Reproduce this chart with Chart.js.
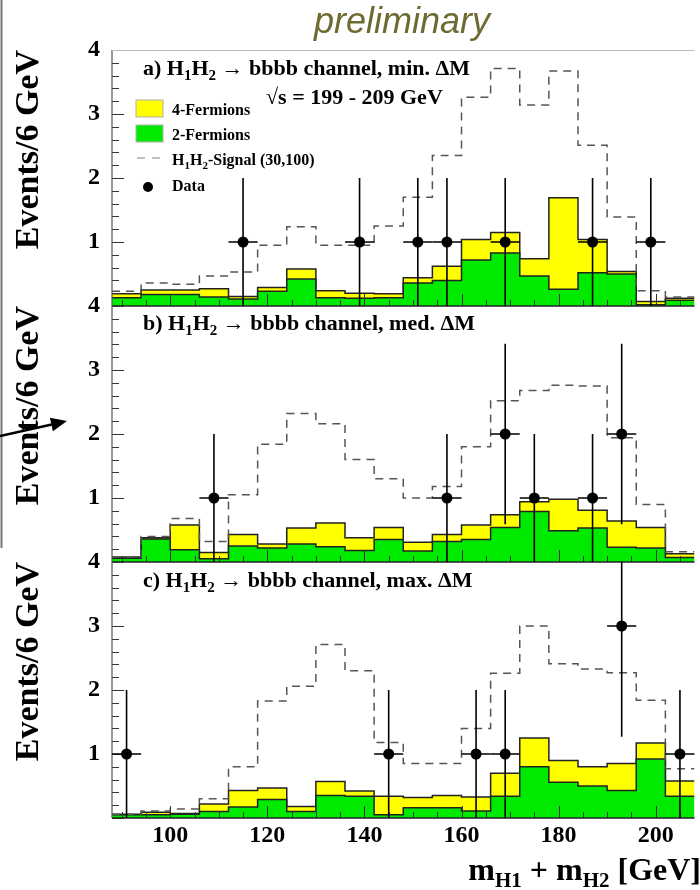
<!DOCTYPE html>
<html>
<head>
<meta charset="utf-8">
<script src="https://cdn.jsdelivr.net/npm/chart.js@4.4.0/dist/chart.umd.min.js"></script>
<style>
  html, body { margin: 0; padding: 0; background: #fff; }
  #wrap { position: relative; width: 700px; height: 890px; overflow: hidden; }
  #plot { position: absolute; left: 0; top: 0; }
  #notes { position: absolute; left: 0; top: 0; pointer-events: none; }
  #notes text { font-family: 'Liberation Serif', 'Times New Roman', serif; font-weight: bold; fill: #000; }
</style>
</head>
<body>
<div id="wrap">
  <canvas id="plot" width="700" height="890"></canvas>
  <svg id="notes" width="700" height="890">
    <line x1="1.5" y1="0" x2="1.5" y2="548" stroke="#777" stroke-width="2"/>
    <line x1="0" y1="436" x2="54" y2="424" stroke="#000" stroke-width="2.5"/>
    <polygon points="67,421 52.9,431.3 49.9,417.7" fill="#000"/>

    <text x="402" y="33" text-anchor="middle" style="font-family:'Liberation Sans',Arial,sans-serif;font-style:italic;font-weight:normal;font-size:36px;fill:#6d6b32">preliminary</text>

    <text x="143" y="75" font-size="22">a) H<tspan font-size="15" dy="5">1</tspan><tspan dy="-5">H</tspan><tspan font-size="15" dy="5">2</tspan><tspan dy="-5"> → bbbb channel, min. ΔM</tspan></text>
    <text x="266" y="104" font-size="22">√s = 199 - 209 GeV</text>

    <rect x="136" y="100" width="27" height="17" fill="#ffff00" stroke="#b0b0b0" stroke-width="1"/>
    <text x="172" y="115" font-size="16">4-Fermions</text>
    <rect x="136" y="125" width="27" height="17" fill="#00ea00" stroke="#b0b0b0" stroke-width="1"/>
    <text x="172" y="140" font-size="16">2-Fermions</text>
    <line x1="137" y1="158" x2="163" y2="158" stroke="#aaa" stroke-width="1.5" stroke-dasharray="8,7"/>
    <text x="172" y="165" font-size="16">H<tspan font-size="11" dy="4">1</tspan><tspan dy="-4">H</tspan><tspan font-size="11" dy="4">2</tspan><tspan dy="-4">-Signal (30,100)</tspan></text>
    <circle cx="148" cy="187" r="5" fill="#000"/>
    <text x="172" y="191" font-size="16">Data</text>

    <text x="143" y="330" font-size="22">b) H<tspan font-size="15" dy="5">1</tspan><tspan dy="-5">H</tspan><tspan font-size="15" dy="5">2</tspan><tspan dy="-5"> → bbbb channel, med. ΔM</tspan></text>
    <text x="143" y="587" font-size="22">c) H<tspan font-size="15" dy="5">1</tspan><tspan dy="-5">H</tspan><tspan font-size="15" dy="5">2</tspan><tspan dy="-5"> → bbbb channel, max. ΔM</tspan></text>

    <text x="701" y="880" text-anchor="end" font-size="32">m<tspan font-size="21" dy="7">H1</tspan><tspan dy="-7"> + m</tspan><tspan font-size="21" dy="7">H2</tspan><tspan dy="-7"> [GeV]</tspan></text>
  </svg>
</div>
<script>
// 6 GeV mass bins, edges in GeV
const massEdges = [88, 94, 100, 106, 112, 118, 124, 130, 136, 142, 148, 154, 160, 166, 172, 178, 184, 190, 196, 202, 208];
const massTicks = [100, 120, 140, 160, 180, 200];
const countTicks = [1, 2, 3, 4];
const halfBin = 3;

// a) min. dM
const twoFermA  = [0.13, 0.18, 0.18, 0.14, 0.11, 0.23, 0.42, 0.13, 0.12, 0.13, 0.36, 0.40, 0.72, 0.83, 0.47, 0.26, 0.52, 0.50, 0.02, 0.09];
const fourFermA = [0.06, 0.07, 0.07, 0.13, 0.04, 0.06, 0.16, 0.11, 0.08, 0.06, 0.08, 0.22, 0.32, 0.32, 0.27, 1.43, 0.52, 0.04, 0.05, 0.03];
const signalA   = [0.23, 0.36, 0.34, 0.47, 0.53, 0.95, 1.24, 0.95, 0.95, 1.25, 1.70, 2.35, 3.26, 3.71, 3.14, 3.67, 2.51, 1.39, 0.24, 0.14];
const dataMassA  = [115, 139, 151, 157, 169, 187, 199];
const dataCountA = [1, 1, 1, 1, 1, 1, 1];
const dataErrA   = [1, 1, 1, 1, 1, 1, 1];

// b) med. dM
const twoFermB  = [0.06, 0.36, 0.19, 0.05, 0.25, 0.22, 0.28, 0.24, 0.18, 0.35, 0.17, 0.32, 0.35, 0.54, 0.79, 0.49, 0.53, 0.23, 0.22, 0.07];
const fourFermB = [0.02, 0.02, 0.39, 0.10, 0.18, 0.06, 0.25, 0.37, 0.20, 0.19, 0.14, 0.11, 0.23, 0.20, 0.15, 0.49, 0.28, 0.41, 0.32, 0.06];
const signalB   = [0.08, 0.40, 0.68, 0.32, 1.05, 1.84, 2.32, 2.16, 1.60, 1.30, 1.00, 1.18, 1.80, 2.52, 2.68, 2.76, 2.75, 1.94, 0.90, 0.16];
const dataMassB  = [109, 157, 169, 175, 187, 193];
const dataCountB = [1, 1, 2, 1, 1, 2];
const dataErrB   = [1, 1, 1.41, 1, 1, 1.41];

// c) max. dM
const twoFermC  = [0.05, 0.05, 0.06, 0.10, 0.17, 0.29, 0.10, 0.35, 0.34, 0.05, 0.16, 0.16, 0.11, 0.34, 0.80, 0.56, 0.50, 0.43, 0.92, 0.34];
const fourFermC = [0.01, 0.04, 0.01, 0.12, 0.26, 0.18, 0.08, 0.22, 0.08, 0.29, 0.16, 0.19, 0.22, 0.36, 0.45, 0.34, 0.30, 0.42, 0.25, 0.24];
const signalC   = [0.06, 0.11, 0.14, 0.30, 0.80, 1.83, 2.06, 2.71, 2.30, 1.18, 0.85, 0.85, 1.40, 2.26, 3.00, 2.41, 2.33, 2.27, 1.84, 0.77];
const dataMassC  = [91, 145, 163, 169, 193, 205];
const dataCountC = [1, 1, 1, 1, 3, 1];
const dataErrC   = [1, 1, 1, 1, 1.73, 1];

const SERIF = "'Liberation Serif', 'Times New Roman', serif";

// histogram as a stepped line: one point per left edge plus the closing right edge
function stepPoints(values) {
  const pts = values.map((v, i) => ({ x: massEdges[i], y: v }));
  pts.push({ x: massEdges[values.length], y: values[values.length - 1] });
  return pts;
}

const panels = [
  { id: 'ya', two: twoFermA, four: fourFermA, sig: signalA, mx: dataMassA, n: dataCountA, err: dataErrA },
  { id: 'yb', two: twoFermB, four: fourFermB, sig: signalB, mx: dataMassB, n: dataCountB, err: dataErrB },
  { id: 'yc', two: twoFermC, four: fourFermC, sig: signalC, mx: dataMassC, n: dataCountC, err: dataErrC }
];

const datasets = [];
panels.forEach(p => {
  const total = p.two.map((v, i) => v + p.four[i]);
  datasets.push({
    type: 'scatter', label: 'Data', yAxisID: p.id, order: 0,
    data: p.mx.map((x, i) => ({ x, y: p.n[i] })),
    errors: p.err,
    pointRadius: 5.5, pointBackgroundColor: '#000', pointBorderWidth: 0
  });
  datasets.push({
    label: 'H1H2-Signal (30,100)', yAxisID: p.id, order: 1,
    data: stepPoints(p.sig), stepped: true, fill: false,
    borderColor: '#555', borderWidth: 1.5, borderDash: [8, 6], pointRadius: 0
  });
  datasets.push({
    label: '2-Fermions', yAxisID: p.id, order: 2,
    data: stepPoints(p.two), stepped: true, fill: 'origin',
    backgroundColor: '#00ea00', borderColor: '#222', borderWidth: 1.5, pointRadius: 0
  });
  datasets.push({
    label: '4-Fermions', yAxisID: p.id, order: 3,
    data: stepPoints(total), stepped: true, fill: 'origin',
    backgroundColor: '#ffff00', borderColor: '#222', borderWidth: 1.5, pointRadius: 0
  });
});

function countAxis() {
  return {
    type: 'linear', position: 'left', stack: 'panels', stackWeight: 1,
    min: 0, max: 4,
    grid: { display: false, drawTicks: false },
    border: { display: false },
    afterBuildTicks: s => { s.ticks = countTicks.map(v => ({ value: v })); },
    ticks: { padding: 12, color: '#000', font: { family: SERIF, size: 24, weight: 'bold' } },
    title: {
      display: true, text: 'Events/6 GeV', align: 'end', color: '#000',
      font: { family: SERIF, size: 34, weight: 'bold' }, padding: { top: 9, bottom: 0 }
    },
    afterFit: s => { s.width = 112; }
  };
}

// inner tick marks and frame lines, ROOT style
const frame = {
  id: 'frame',
  afterDatasetsDraw(chart) {
    const { ctx, chartArea } = chart;
    const xs = chart.scales.x;
    ctx.save();
    ctx.strokeStyle = '#333';
    ctx.lineWidth = 1;
    panels.forEach(p => {
      const ys = chart.scales[p.id];
      ctx.beginPath();
      for (let k = 0; k <= 20; k++) {
        const py = Math.round(ys.getPixelForValue(k * 0.2)) + 0.5;
        const len = k % 5 === 0 ? 12 : 7;
        ctx.moveTo(chartArea.left, py);
        ctx.lineTo(chartArea.left + len, py);
      }
      for (let m = 90; m <= 205; m += 5) {
        const px = Math.round(xs.getPixelForValue(m)) + 0.5;
        const len = m % 20 === 0 ? 12 : 6;
        ctx.moveTo(px, ys.bottom);
        ctx.lineTo(px, ys.bottom - len);
      }
      ctx.stroke();
      ctx.lineWidth = 1.5;
      ctx.strokeStyle = '#222';
      ctx.beginPath();
      ctx.moveTo(chartArea.left, ys.bottom);
      ctx.lineTo(chartArea.right, ys.bottom);
      ctx.stroke();
      ctx.lineWidth = 1;
      ctx.strokeStyle = '#333';
    });
    ctx.strokeStyle = '#555';
    ctx.lineWidth = 1.2;
    ctx.beginPath();
    ctx.moveTo(chartArea.left, chartArea.top);
    ctx.lineTo(chartArea.left, chartArea.bottom);
    ctx.stroke();
    ctx.strokeStyle = '#bbb';
    ctx.lineWidth = 1;
    ctx.beginPath();
    ctx.moveTo(chartArea.left, chartArea.top + 0.5);
    ctx.lineTo(chartArea.right, chartArea.top + 0.5);
    ctx.stroke();
    ctx.restore();
  }
};

// Poisson error bars on the data points, horizontal bar spans the bin
const errorBars = {
  id: 'errorBars',
  afterDatasetsDraw(chart) {
    const ctx = chart.ctx;
    const xs = chart.scales.x;
    ctx.save();
    ctx.strokeStyle = '#000';
    ctx.lineWidth = 1.6;
    chart.data.datasets.forEach(ds => {
      if (!ds.errors) return;
      const ys = chart.scales[ds.yAxisID];
      ds.data.forEach((pt, i) => {
        const px = xs.getPixelForValue(pt.x);
        const py = ys.getPixelForValue(pt.y);
        const hi = Math.max(ys.getPixelForValue(pt.y + ds.errors[i]), ys.top);
        const lo = Math.min(ys.getPixelForValue(pt.y - ds.errors[i]), ys.bottom);
        ctx.beginPath();
        ctx.moveTo(px, hi);
        ctx.lineTo(px, lo);
        ctx.moveTo(xs.getPixelForValue(pt.x - halfBin), py);
        ctx.lineTo(xs.getPixelForValue(pt.x + halfBin), py);
        ctx.stroke();
      });
    });
    ctx.restore();
  }
};

new Chart(document.getElementById('plot'), {
  type: 'line',
  data: { datasets },
  options: {
    responsive: false,
    animation: false,
    layout: { padding: { top: 50, right: 0, bottom: 0, left: 0 } },
    plugins: { legend: { display: false }, tooltip: { enabled: false } },
    elements: { line: { tension: 0 } },
    scales: {
      x: {
        type: 'linear', position: 'bottom', min: 88, max: 208,
        grid: { display: false, drawTicks: false },
        border: { display: false },
        afterBuildTicks: s => { s.ticks = massTicks.map(v => ({ value: v })); },
        ticks: { padding: 3, autoSkip: false, maxRotation: 0, color: '#000', font: { family: SERIF, size: 24, weight: 'bold' } },
        afterFit: s => { s.height = 72; }
      },
      yc: countAxis(),
      yb: countAxis(),
      ya: countAxis()
    }
  },
  plugins: [frame, errorBars]
});
</script>
</body>
</html>
